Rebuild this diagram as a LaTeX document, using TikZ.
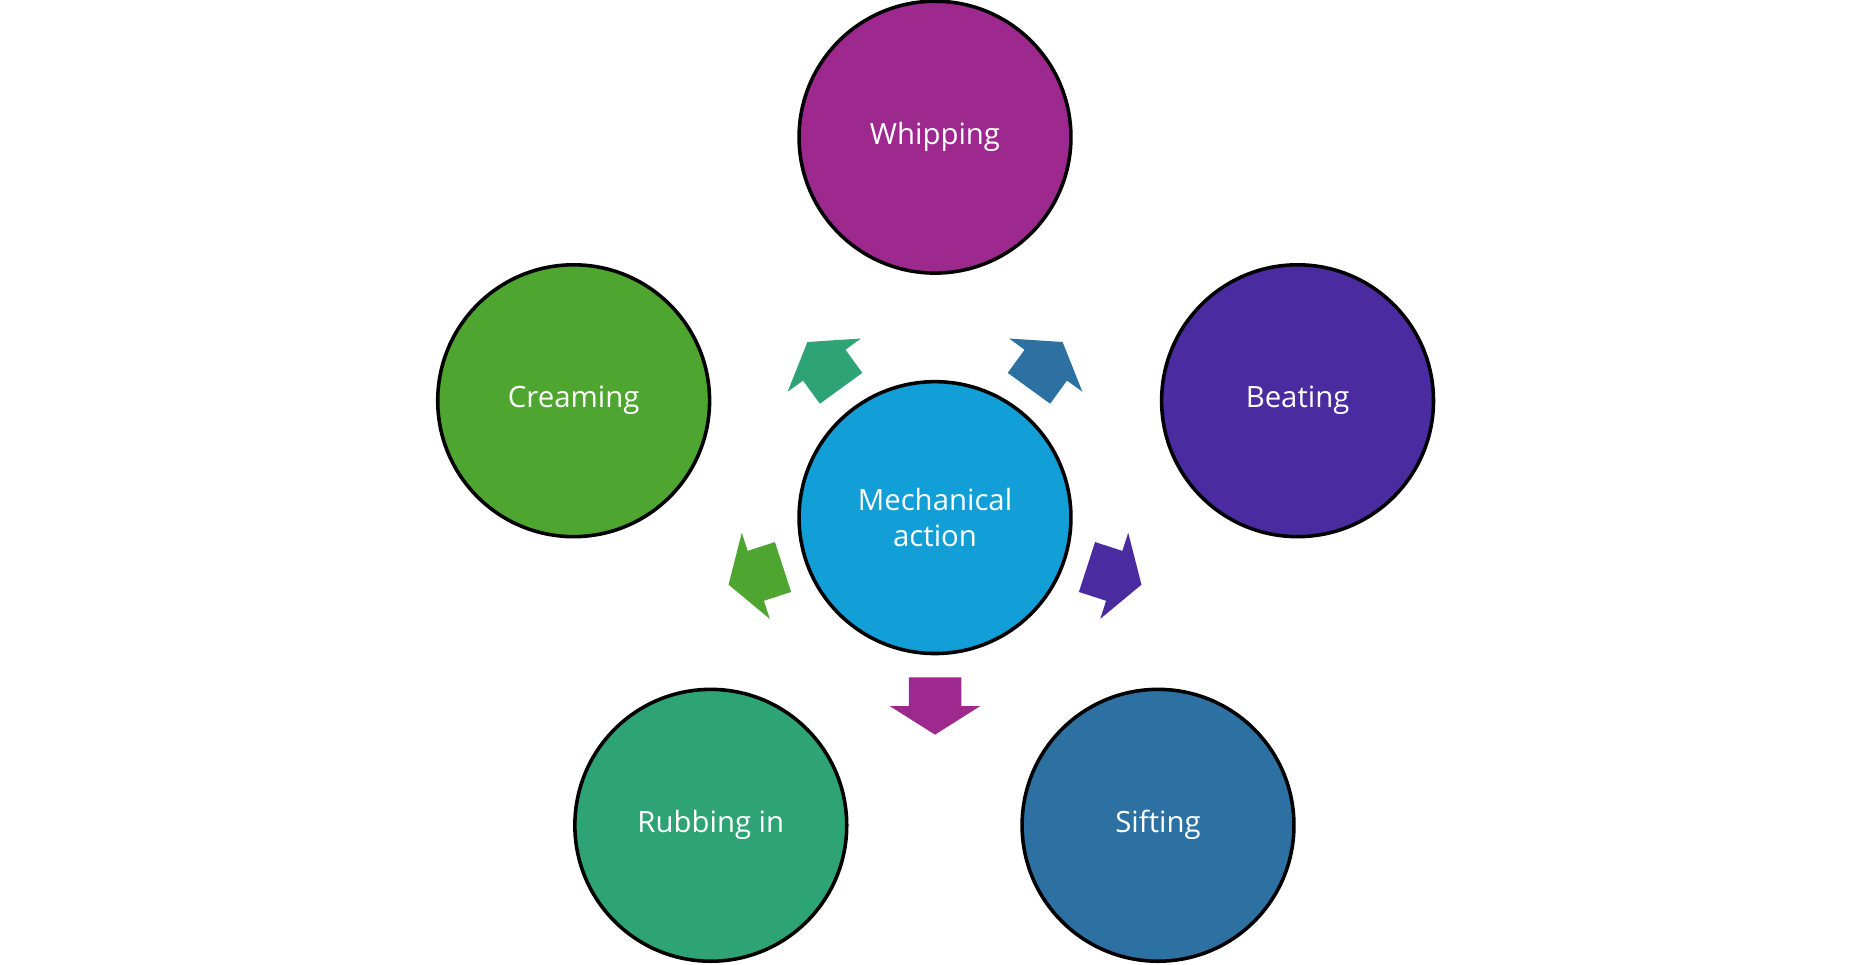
\documentclass[tikz,border=0pt]{standalone}
\usepackage{fontspec}
\setmainfont{Open Sans}
\definecolor{cmech}{RGB}{18,158,214}
\definecolor{cwhip}{RGB}{157,41,143}
\definecolor{cbeat}{RGB}{75,43,160}
\definecolor{csift}{RGB}{45,113,163}
\definecolor{crub}{RGB}{46,164,118}
\definecolor{ccream}{RGB}{78,166,48}
\tikzset{
  blob/.style={draw=black, line width=1.7pt, circle, minimum size=4.56cm,
    text=white, font=\fontsize{14}{17}\selectfont, align=center},
  blockarrow/.style={fill=#1, draw=none}
}
\begin{document}
\begin{tikzpicture}[x=0.02cm, y=-0.02cm]
			 \useasboundingbox (0,0) rectangle (1568,809);
			 \node[blob,fill=cmech] (mech)at(784,434) {Mechanical\\action};
			 \node[blob,fill=cwhip] (whip)at(784,115) {Whipping};
			 \node[blob,fill=cbeat] (beat)at(1088,336) {Beating};
			 \node[blob,fill=csift] (sift)at(971,692) {Sifting};
			 \node[blob,fill=crub] (rub)at(596,692) {Rubbing in};
			 \node[blob,fill=ccream] (cream)at(481,336) {Creaming};
			 \foreach \ang/\col in {90/cwhip, 18/cbeat, -54/csift, -126/crub, 162/ccream}
			   \fill[blockarrow=\col, shift={(mech.center)}, rotate=-\ang]
			     (134,-22) -- (158,-22) -- (158,-38) -- (182,0) -- (158,38) -- (158,22) -- (134,22) -- cycle;
		\end{tikzpicture}
\end{document}
